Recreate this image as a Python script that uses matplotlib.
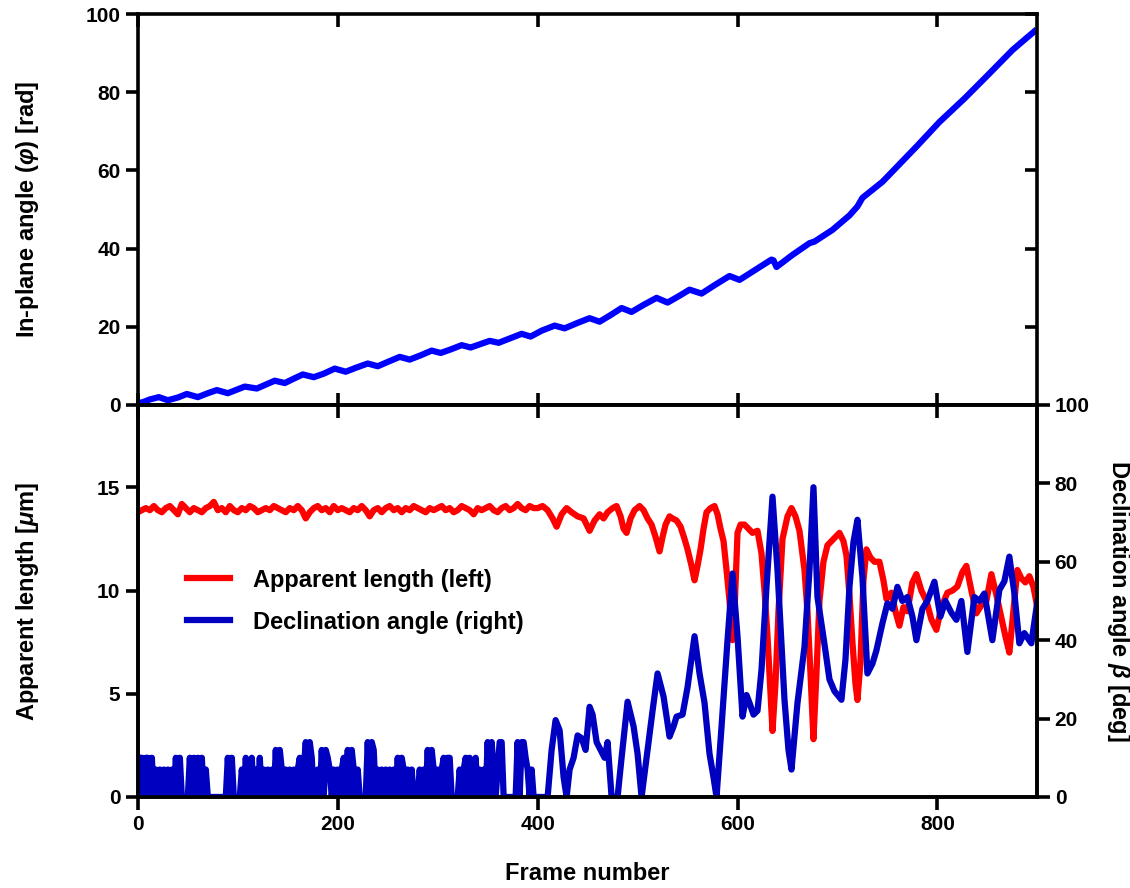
import numpy as np
import matplotlib
matplotlib.use("Agg")
import matplotlib.pyplot as plt
from matplotlib.lines import Line2D, TICKLEFT, TICKDOWN

plt.rcParams["font.family"] = ["Liberation Sans", "DejaVu Sans"]
plt.rcParams["font.weight"] = "bold"
plt.rcParams["mathtext.fontset"] = "custom"
plt.rcParams["mathtext.it"] = "Liberation Sans:italic"
plt.rcParams["mathtext.rm"] = "Liberation Sans:bold"

# ---- top panel: in-plane angle phi (rad) vs frame ----
phi_frames = [0, 5, 12, 21, 30, 40, 49, 60, 70, 79, 90, 98, 107, 119, 128, 137,
              147, 155, 165, 176, 186, 197, 208, 218, 230, 240, 250, 262, 272,
              283, 294, 303, 313, 324, 333, 342, 352, 361, 372, 384, 393, 404,
              417, 427, 440, 452, 462, 473, 484, 494, 506, 519, 530, 541, 552,
              564, 578, 592, 602, 618, 634, 636, 639, 655, 672, 677, 695, 712,
              720, 725, 745, 762, 779, 802, 827, 850, 875, 885, 897]
phi_vals = [0.5, 0.7, 1.4, 2.0, 1.2, 1.9, 2.8, 2.0, 3.0, 3.8, 3.0, 3.8, 4.7, 4.2,
            5.2, 6.2, 5.6, 6.6, 7.8, 7.1, 8.0, 9.3, 8.5, 9.5, 10.6, 9.9, 11.0,
            12.3, 11.6, 12.7, 13.9, 13.3, 14.2, 15.3, 14.7, 15.5, 16.4, 15.9,
            17.0, 18.2, 17.5, 19.0, 20.3, 19.6, 21.0, 22.2, 21.3, 23.0, 24.8,
            23.8, 25.6, 27.4, 26.2, 27.8, 29.5, 28.5, 30.8, 33.0, 32.0, 34.6,
            37.2, 37.0, 35.3, 38.4, 41.4, 41.8, 44.8, 48.5, 50.8, 53.0, 57.1,
            61.6, 66.1, 72.4, 78.4, 84.3, 90.8, 93.0, 95.6]

# ---- bottom panel: apparent length (um), early part every 4 frames ----
length_early = [13.8, 13.9, 14.0, 13.9, 14.1, 13.9, 13.8, 14.0, 14.1, 13.9,
                13.7, 14.2, 14.0, 13.8, 14.0, 13.9, 13.8, 14.0, 14.1, 14.3,
                13.9, 14.0, 13.8, 14.1, 13.9, 13.8, 14.0, 13.9, 14.1, 14.0,
                13.8, 13.9, 14.0, 13.9, 14.1, 14.0, 13.9, 13.8, 14.0, 13.9,
                14.1, 13.9, 13.5, 13.8, 14.0, 14.1, 13.9, 14.0, 13.8, 14.1,
                13.9, 14.0, 13.9, 13.8, 14.0, 13.9, 14.1, 13.9, 13.6, 13.9,
                14.0, 13.8, 14.0, 14.1, 13.9, 14.0, 13.8, 14.0, 13.9, 14.1,
                14.0, 13.9, 13.8, 14.0, 13.9, 14.0, 14.1, 13.9, 14.0, 13.8,
                13.9, 14.1, 14.0, 13.9, 13.7, 14.0, 13.9, 14.0, 14.1, 13.9,
                13.8, 14.0, 14.1, 13.9, 14.0, 14.2, 14.0, 13.9, 14.1, 14.0, 14.0]
length_late_frames = [405, 410, 415, 419, 424, 429, 434, 440, 446, 452, 457,
                      462, 466, 470, 475, 479, 483, 486, 489, 493, 497, 502,
                      506, 510, 514, 518, 522, 525, 528, 532, 535, 539, 543,
                      547, 550, 554, 557, 560, 563, 566, 569, 573, 577, 580,
                      583, 586, 589, 592, 595, 597, 600, 603, 607, 611, 615,
                      620, 624, 627, 630, 633, 635, 638, 641, 645, 650, 654,
                      658, 662, 667, 670, 673, 676, 679, 682, 686, 690, 694,
                      698, 702, 706, 709, 712, 715, 718, 720, 723, 726, 729,
                      733, 737, 742, 746, 749, 754, 758, 762, 766, 770, 775,
                      779, 784, 789, 794, 799, 804, 810, 815, 820, 825, 829,
                      834, 839, 844, 849, 854, 859, 864, 868, 872, 876, 880,
                      884, 888, 892, 896, 900]
length_late = [14.1, 13.9, 13.5, 13.1, 13.7, 14.0, 13.8, 13.6, 13.5, 12.9,
               13.4, 13.7, 13.5, 13.8, 14.0, 14.1, 13.6, 13.0, 12.8, 13.5,
               13.9, 14.1, 13.9, 13.5, 13.2, 12.6, 11.9, 12.6, 13.2, 13.6,
               13.5, 13.4, 13.1, 12.5, 12.0, 11.2, 10.5, 11.2, 12.0, 13.0,
               13.8, 14.0, 14.1, 13.7, 13.0, 12.4, 11.0, 9.5, 7.6, 9.0, 12.8,
               13.2, 13.2, 13.0, 12.8, 12.9, 11.8, 10.0, 7.8, 5.0, 3.2, 5.5,
               9.0, 12.5, 13.6, 14.0, 13.6, 12.9, 11.0, 9.0, 6.0, 2.8, 6.0,
               9.5, 11.4, 12.2, 12.4, 12.6, 12.8, 12.4, 11.7, 9.8, 7.5, 5.5,
               4.7, 6.5, 10.5, 12.0, 11.6, 11.4, 11.4, 10.5, 9.6, 9.9, 9.0,
               8.3, 9.2, 9.0, 10.4, 10.8, 10.0, 9.5, 8.6, 8.1, 9.2, 9.9, 10.0,
               10.2, 10.9, 11.2, 10.0, 8.9, 9.3, 9.5, 10.8, 9.8, 8.7, 7.8,
               7.0, 9.0, 11.0, 10.6, 10.4, 10.7, 10.2, 9.2]

# ---- bottom panel: declination angle beta (deg), early part every 2 frames ----
beta_early = [10, 0, 10, 0, 10, 10, 0, 10, 0,
              7, 0, 7, 0, 7, 0, 7, 0, 7, 0,
              10, 0, 10, 0,
              0, 0, 0,
              10, 0, 10, 0, 10, 0, 10, 0, 7,
              0, 0, 0, 0, 0, 0, 0, 0, 0, 0,
              10, 0, 10, 0,
              0, 0, 0,
              7, 0, 10,
              0, 0,
              10, 0, 7, 0, 10, 0,
              7, 0, 7, 0, 7, 0,
              12, 0, 12, 7, 0,
              7, 0, 7, 0,
              7, 0, 7, 10, 0, 7,
              14, 0, 14, 10,
              0, 0, 7, 0,
              12, 0, 12, 10,
              7, 0, 7, 0, 7, 0, 7,
              10, 0,
              12, 0, 12, 7,
              0, 7, 0, 0, 0, 0,
              14, 0, 14, 12, 0,
              7, 0, 7, 0, 7, 0, 7, 0, 7, 0,
              10, 0, 10, 7,
              0, 7, 0, 7, 0, 0, 0,
              7, 0, 7, 0,
              12, 0, 12, 7,
              0, 7, 0, 7,
              10, 0, 10, 10, 0,
              0, 0, 0, 7, 0, 7,
              10, 0, 10, 0, 7, 10, 0,
              7, 0, 7, 0,
              14, 0, 14, 7,
              0, 7,
              14, 14, 0,
              0, 0, 0, 0, 0, 0,
              14, 0, 14, 14, 10,
              7, 0, 7, 0,
              0, 0, 0, 0, 0, 0]
beta_late_frames = [410, 414, 418, 422, 426, 429, 432, 436, 440, 444, 448, 452,
                    455, 459, 463, 467, 470, 474, 480, 484, 490, 496, 500, 504,
                    509, 515, 520, 526, 532, 536, 539, 545, 550, 557, 562, 567,
                    572, 576, 579, 584, 590, 595, 600, 605, 609, 612, 616, 620,
                    624, 629, 635, 640, 647, 651, 654, 660, 667, 672, 676, 680,
                    687, 692, 697, 704, 708, 712, 716, 720, 725, 730, 735, 739,
                    745, 750, 755, 760, 765, 770, 775, 779, 785, 790, 797, 803,
                    808, 814, 819, 824, 830, 837, 842, 847, 851, 855, 862, 867,
                    872, 877, 882, 887, 894, 900]
beta_late = [0, 12, 19.6, 17, 5, 0, 7, 10, 15.7, 15, 12, 23, 21, 14, 12, 10,
             14, 0, 0, 10, 24.3, 18, 11, 0, 10, 22, 31.5, 25.6, 15.4, 18,
             20.5, 21, 28, 41, 31.5, 24, 11, 5, 0, 17.9, 40, 57, 41, 20.5, 26,
             24, 21, 22, 32.4, 53.6, 76.6, 57.9, 24.8, 12, 7, 24, 38.3, 57.9,
             79, 51, 39, 30, 27, 24.8, 35, 53.6, 65, 70.7, 56, 31.5, 34, 37.4,
             44.3, 49.4, 48, 53.6, 50, 51, 46, 40, 48, 50, 54.9, 46, 50, 47,
             45.2, 50, 37, 51, 50, 51.9, 46, 40, 52.8, 55, 61.3, 52, 39.2,
             41.8, 39.2, 49.8]

length_frames = list(np.arange(len(length_early)) * 4) + length_late_frames
length_vals = length_early + length_late
beta_frames = list(np.arange(len(beta_early)) * 2) + beta_late_frames
beta_vals = beta_early + beta_late

RED = "#ff0000"
DARK_BLUE = "#0000c0"
BLUE = "#0000ff"

fig = plt.figure(figsize=(11.3, 8.88), dpi=100)
ax_top = fig.add_axes([0.122, 0.544, 0.796, 0.440])
ax_bot = fig.add_axes([0.122, 0.1025, 0.796, 0.4415])
ax_right = ax_bot.twinx()

lw_spine = 2.6
tick_kw = dict(length=9, width=2.6, labelsize=15)
label_kw = dict(fontsize=17, fontweight="bold")

# top panel
ax_top.plot(phi_frames, phi_vals, color=BLUE, lw=4.5, solid_joinstyle="round")
ax_top.set_xlim(0, 900)
ax_top.set_ylim(0, 100)
ax_top.set_yticks(np.arange(0, 101, 20))
ax_top.set_xticks(np.arange(0, 901, 200))
ax_top.tick_params(axis="y", left=True, right=True, direction="out", **tick_kw)
ax_top.tick_params(axis="x", bottom=True, top=True, direction="in",
                   labelbottom=False, **tick_kw)
for sp in ax_top.spines.values():
    sp.set_linewidth(lw_spine)
ax_top.set_ylabel(r"In-plane angle ($\varphi$) [rad]", **label_kw)
ax_top.yaxis.set_label_coords(-0.108, 0.5)
# right ticks of the top panel point inwards
for t in ax_top.yaxis.get_major_ticks():
    t.tick2line.set_marker(TICKLEFT)

# bottom panel, left axis
ax_bot.plot(length_frames, length_vals, color=RED, lw=4.5)
ax_bot.set_xlim(0, 900)
ax_bot.set_ylim(0, 19)
ax_bot.set_yticks([0, 5, 10, 15])
ax_bot.set_xticks(np.arange(0, 801, 200))
ax_bot.tick_params(axis="y", direction="out", right=False, **tick_kw)
ax_bot.tick_params(axis="x", direction="out", top=True, pad=4, **tick_kw)
for t in ax_bot.xaxis.get_major_ticks():
    t.tick2line.set_marker(TICKDOWN)
ax_bot.set_xlabel("Frame number", **label_kw)
ax_bot.xaxis.set_label_coords(0.5, -0.165)
ax_bot.set_ylabel(r"Apparent length [$\mu$m]", **label_kw)
ax_bot.yaxis.set_label_coords(-0.108, 0.5)

# bottom panel, right axis
ax_right.plot(beta_frames, beta_vals, color=DARK_BLUE, lw=4.5)
ax_right.set_ylim(0, 100)
ax_right.set_yticks(np.arange(0, 101, 20))
ax_right.tick_params(axis="y", direction="out", **tick_kw)
ax_right.set_ylabel(r"Declination angle $\beta$ [deg]", rotation=-90,
                    va="center", **label_kw)
ax_right.yaxis.set_label_coords(1.09, 0.5)
for ax in (ax_bot, ax_right):
    for sp in ax.spines.values():
        sp.set_linewidth(lw_spine)

h1 = Line2D([], [], color=RED, lw=4.5)
h2 = Line2D([], [], color=DARK_BLUE, lw=4.5)
ax_right.legend([h1, h2], ["Apparent length (left)", "Declination angle (right)"],
                loc="center left", bbox_to_anchor=(0.1655, 0.323),
                bbox_transform=fig.transFigure, frameon=False, borderpad=0,
                borderaxespad=0, handlelength=1.8, handletextpad=1.0,
                labelspacing=0.8, prop=dict(size=17, weight="bold"))

fig.savefig("out.png", dpi=100)
